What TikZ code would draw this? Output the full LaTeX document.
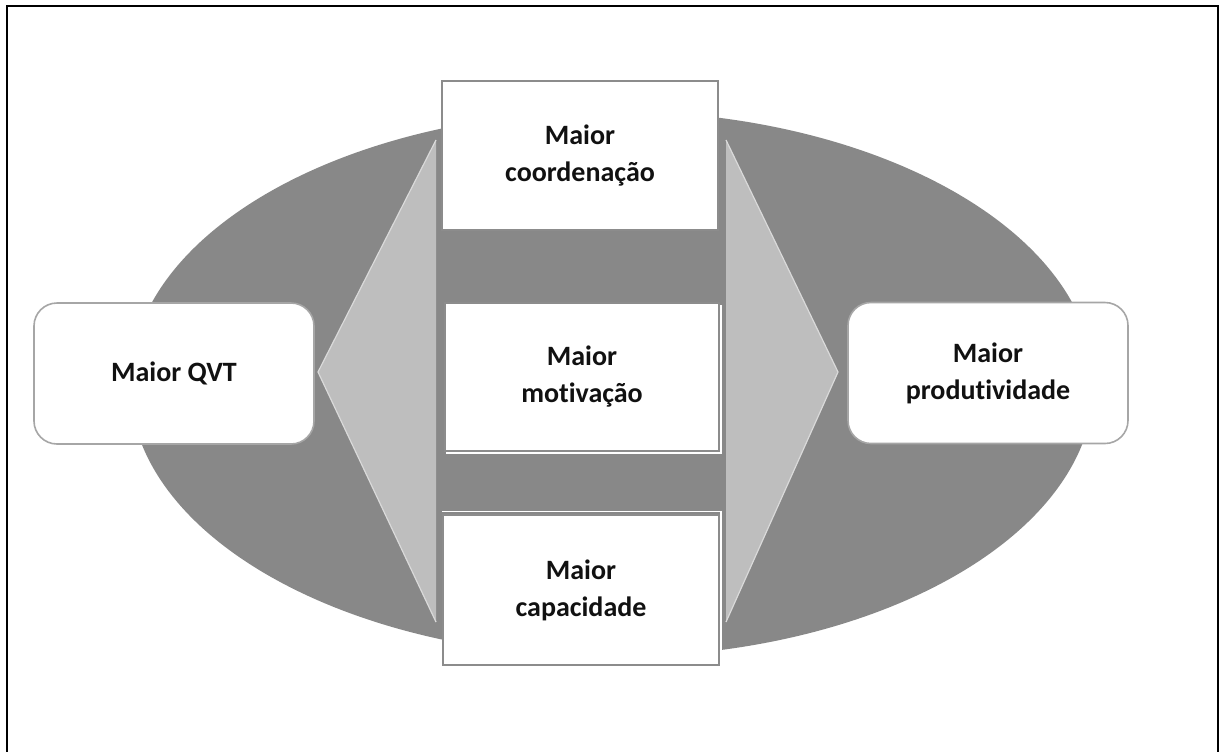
\documentclass[tikz,border=0pt]{standalone}
\usepackage{fontspec}
\setmainfont{Carlito}[RawFeature={-liga;-clig;-calt;-dlig}]
\begin{document}
\definecolor{ovalgray}{HTML}{888888}
\definecolor{wedgegray}{HTML}{BEBEBE}
\definecolor{edgegray}{HTML}{DADADA}
\definecolor{boxline}{HTML}{8C8C8C}
\definecolor{roundline}{HTML}{A6A6A6}
\definecolor{inkdark}{HTML}{111111}
\begin{tikzpicture}[x=0.5pt,y=-0.5pt,
  label font/.style={font=\fontsize{14}{18.5}\selectfont\bfseries, text=inkdark, align=center},
  centerbox/.style={draw=boxline, line width=1pt, fill=white, label font,
    minimum width=138pt, minimum height=74.5pt, inner sep=0pt},
  sidebox/.style={draw=roundline, line width=0.8pt, fill=white, label font,
    rounded corners=11.5pt, minimum width=140pt, minimum height=70.5pt, inner sep=0pt},
  wedge/.style={fill=wedgegray},
  wedgeedge/.style={draw=edgegray, line width=0.6pt}]
  \useasboundingbox (0,0) rectangle (1219,751);

  % outer frame (its lower edge lies below the page)
  \draw[line width=1pt, black] (7,6) rectangle (1218,790);

  % background oval
  \fill[ovalgray] (612,384) ellipse [x radius=241pt, y radius=136.5pt];

  % light wedges pointing outwards
  \coordinate (lt) at (436,140);
  \coordinate (lb) at (436,622);
  \coordinate (ltip) at (318,372);
  \coordinate (rt) at (726,140);
  \coordinate (rb) at (726,622);
  \coordinate (rtip) at (838,372);
  \fill[wedge] (lt) -- (ltip) -- (lb) -- cycle;
  \fill[wedge] (rt) -- (rtip) -- (rb) -- cycle;
  \draw[wedgeedge] (lt) -- (ltip) -- (lb);
  \draw[wedgeedge] (rt) -- (rtip) -- (rb);

  % middle column
  \node[centerbox] (coord) at (580,155.5) {Maior\\coordenação};
  \draw[white, line width=0.8pt] (721,305) -- (721,453) -- (446,453);
  \node[centerbox, minimum width=137pt, minimum height=74pt] (motiv) at (582,377) {Maior\\motivação};
  \draw[white, line width=0.8pt] (442,511.5) -- (721,511.5) -- (721,660);
  \node[centerbox, minimum height=75pt] (capac) at (581,590) {Maior\\capacidade};

  % side boxes
  \node[sidebox] (qvt) at (174,373.5) {Maior QVT};
  \node[sidebox] (prod) at (988,373) {Maior\\produtividade};
\end{tikzpicture}
\end{document}
